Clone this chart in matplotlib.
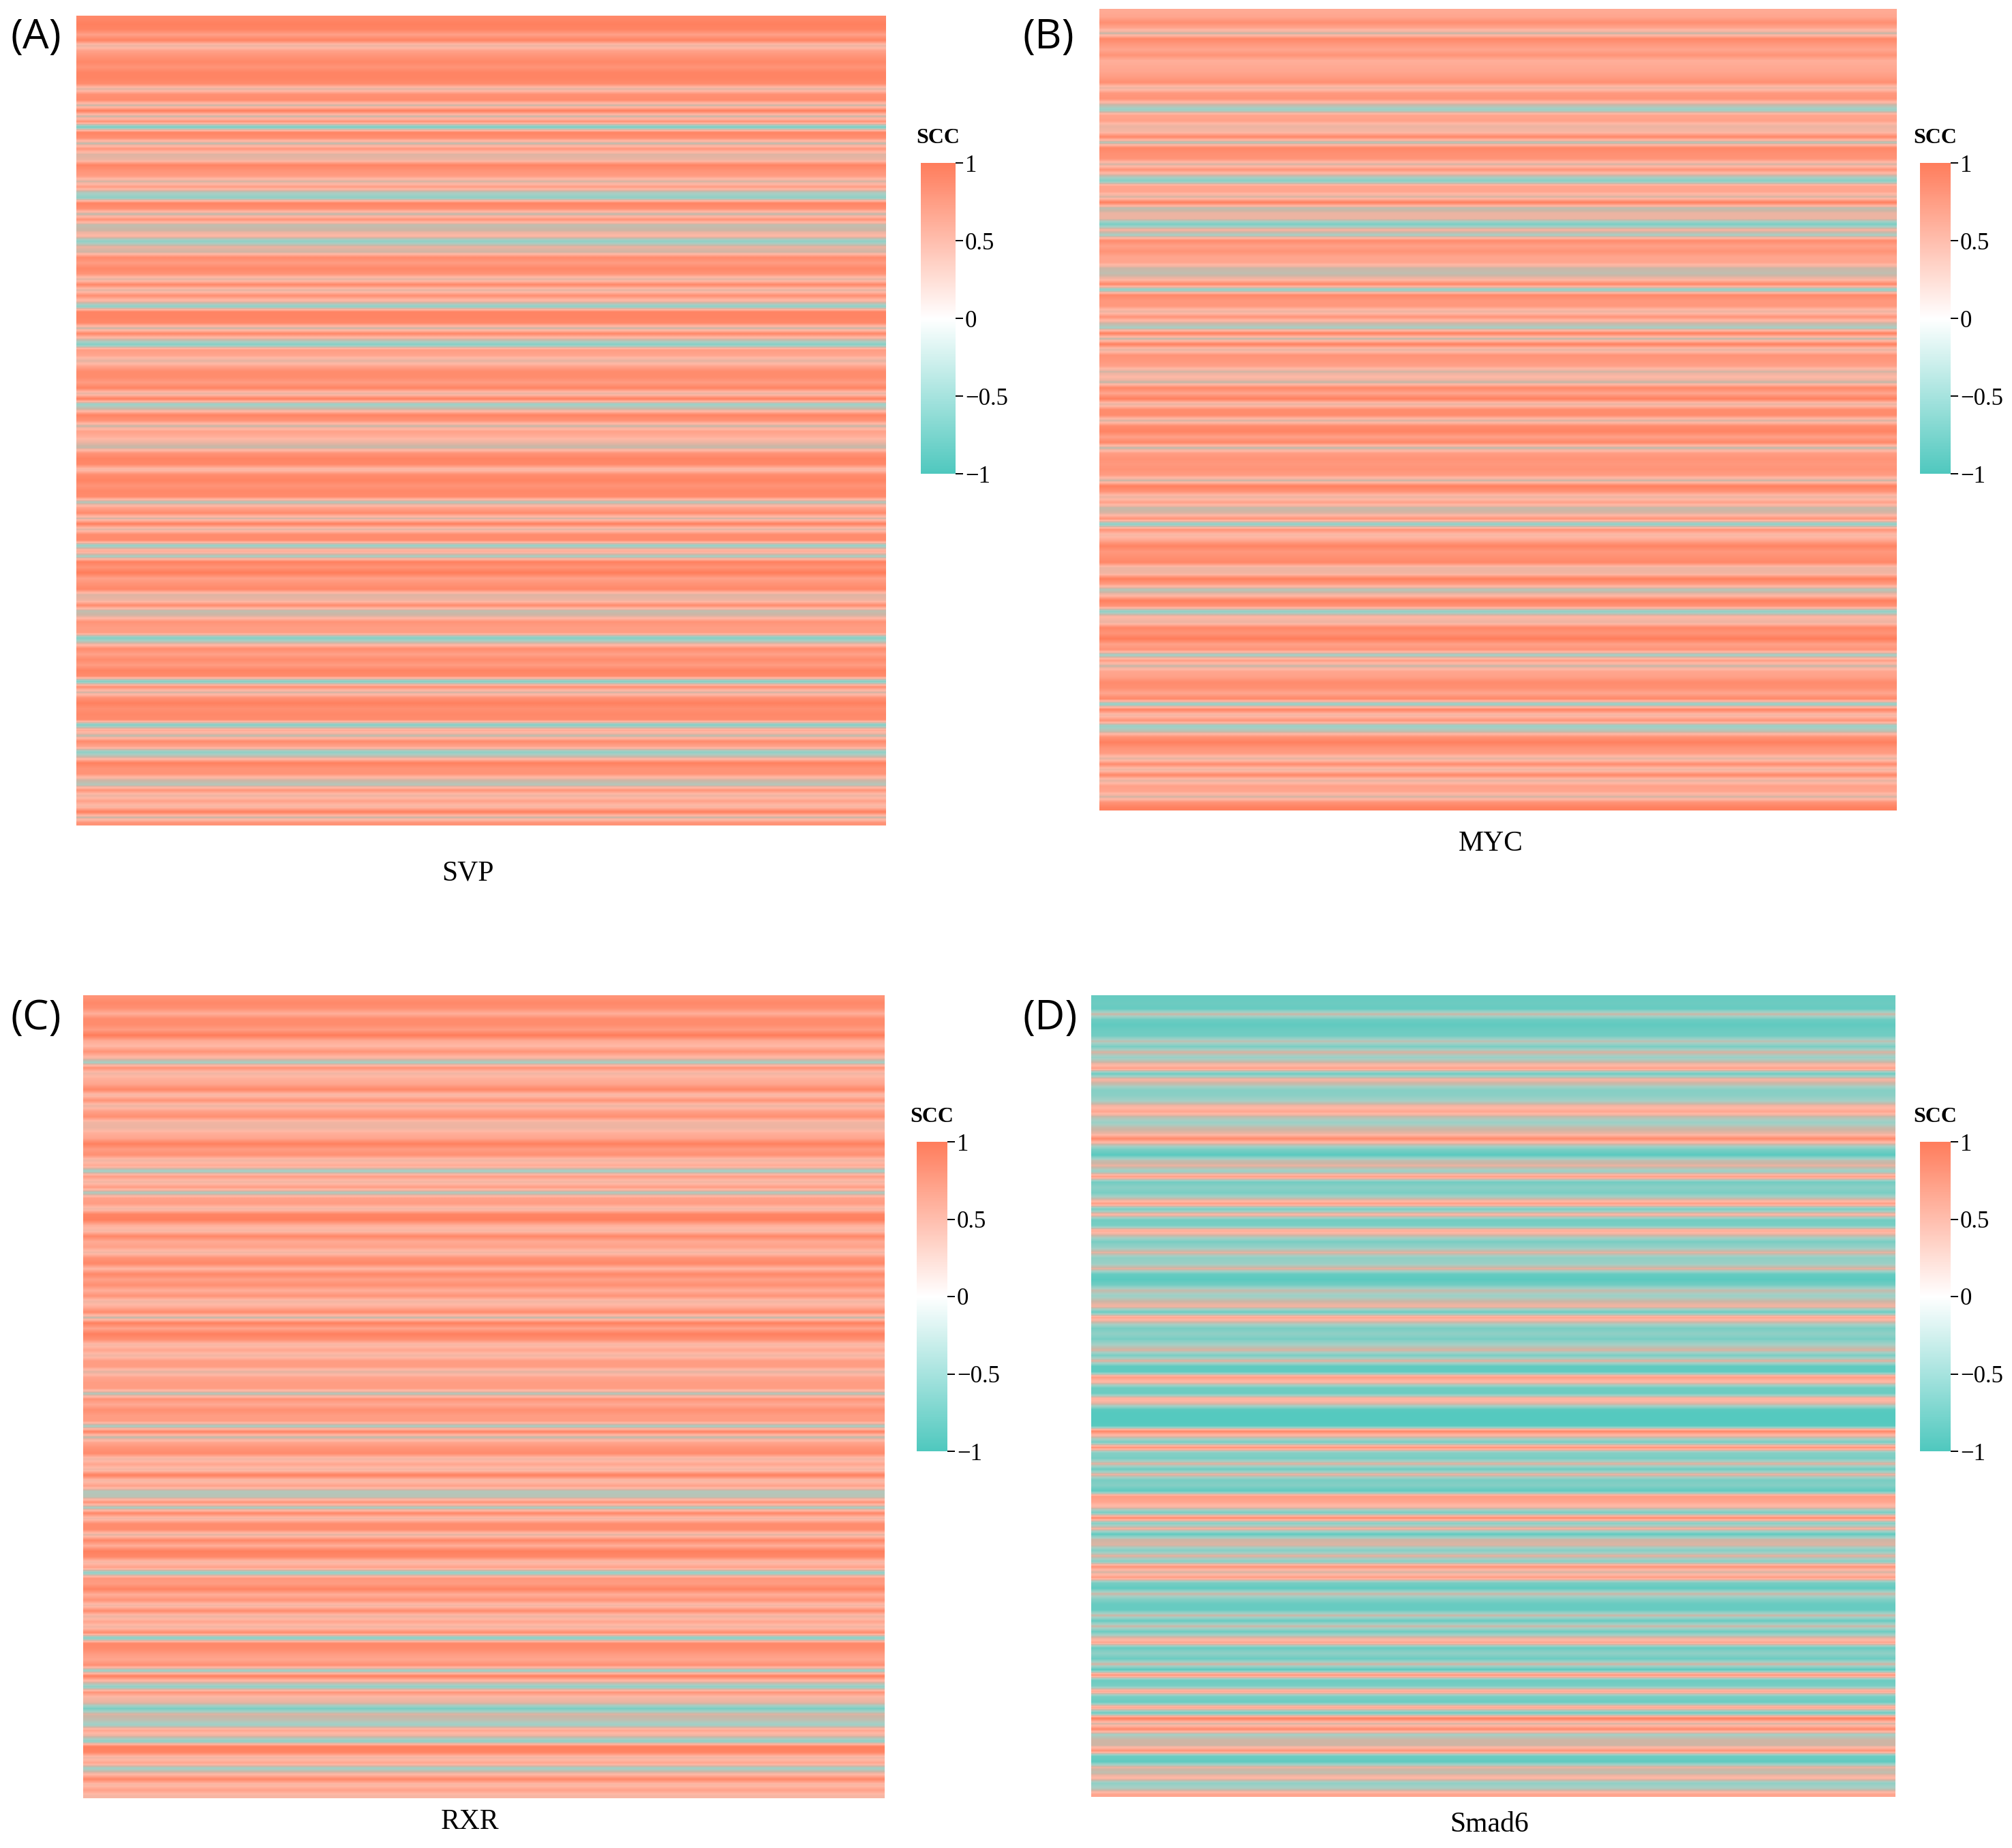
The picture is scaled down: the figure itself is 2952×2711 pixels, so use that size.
import numpy as np
import matplotlib
matplotlib.use("Agg")
import matplotlib.pyplot as plt
from matplotlib.cm import ScalarMappable
from matplotlib.colors import LinearSegmentedColormap, Normalize

# rows read top to bottom, ten per line
svp_values = [
    .85, .95, .9, .55, .9, .1, .55, .7, .85, .7,
    .9, .9, .8, .05, .75, .8, -.05, .95, -.05, .7,
    -.7, .9, .75, -.1, .65, .05, .1, .9, .7, .6,
    0, .6, -.2, -.5, .9, .75, -.1, .7, -.1, 0,
    .3, -.5, .1, 0, .8, .6, .85, .7, .05, .85,
    .05, .75, .2, -.5, .9, .9, .85, -.05, .85, .05,
    -.6, .6, .5, .05, .5, .8, .8, .6, .9, .05,
    .95, -.4, .05, .9, .7, -.05, .55, .4, .1, -.05,
    .7, .9, .85, .2, .8, .9, .7, .85, .8, -.2,
    .5, .8, 0, .95, .05, .8, .8, -.45, .45, -.3,
    .95, .7, 1, .55, .7, .85, .05, .1, .8, -.1,
    .05, .7, .6, .6, -.6, .05, .8, .55, .8, .6,
    .9, .8, -.6, .75, 0, .7, .95, .75, .85, .8,
    -.6, .45, -.1, .8, .5, -.5, .05, .95, .7, .7,
    .05, -.2, .7, .1, .55, .2, .95, -.05, .7,
]
myc_values = [
    .45, .5, .75, .5, -.05, .85, .65, .5, .7, .4,
    .45, .5, .6, .75, .1, .65, .7, 0, -.4, .5,
    .55, .1, .2, .85, -.2, .85, .75, .7, 0, .7,
    0, -.6, .5, .5, 0, .95, -.1, .1, .1, -.7,
    .2, -.3, .8, .55, .7, .5, .5, 0, -.1, .15,
    .85, -.5, .85, .65, .65, .1, .7, .05, -.3, .95,
    -.1, .95, .05, .7, .65, .55, 0, .3, -.05, .85,
    .5, .95, .05, .8, .8, 0, .8, .9, .55, .85,
    -.1, .6, .7, .65, .7, .6, -.05, .95, .7, .1,
    .55, -.05, .05, .7, -.55, .7, .2, .5, .9, .65,
    .75, .85, .1, .15, .95, .6, -.2, .2, .95, .7,
    -.5, .3, .1, .85, .7, 1, .55, .7, -.35, .6,
    -.05, .5, .55, .8, .75, .5, .85, -.5, .9, .15,
    .7, -.4, -.1, .7, .95, .7, .6, .05, .8, .1,
    .85, .05, .55, .5, 0, .7, .95,
]
rxr_values = [
    .7, .85, .75, .4, .8, .8, .6, 1, .45, .3,
    .7, .3, -.3, .7, .15, .4, .5, .85, .2, .7,
    .1, .55, .75, .15, .1, .4, .5, .95, .6, .75,
    .15, .45, -.35, .6, .15, .6, -.25, .55, .6, .15,
    .9, .95, .4, .2, .85, .45, .55, .15, .7, .85,
    .3, .85, .55, .75, .4, .7, .15, .4, .8, -.1,
    .95, .5, .95, .75, .2, .5, .15, .6, .6, .05,
    .5, .6, .6, -.2, .7, .45, .75, .6, .6, -.3,
    .9, -.1, .5, .7, .8, .15, .5, .15, .95, .2,
    .55, -.2, -.15, .7, -.3, .85, .15, .8, .8, .05,
    .85, .4, .95, .85, .2, .55, -.5, .65, .6, .9,
    .4, .7, .15, .8, .1, .5, .15, .8, -.6, .85,
    .8, .6, .5, .75, -.4, .95, .15, -.5, .7, .2,
    .05, -.7, .05, -.1, -.35, .5, .1, -.5, .95, .9,
    .15, .5, -.35, .2, .85, .2, .55, .2,
]
smad6_values = [
    -.85, -.8, -.85, 0, -.8, -.9, -.8, -.75, -.1, -.7,
    .05, -.4, .05, .55, -.8, .2, -.1, -.6, -.55, -.3,
    .2, .5, -.1, -.4, -.05, .1, .8, 0, -.7, -.95,
    -.1, .1, -.4, .6, -.75, -.55, -.7, -.1, .6, -.7,
    .3, -.75, -.7, .45, -.1, -.7, -.45, .1, -.5, -.4,
    .1, -.85, -.95, -.75, -.05, -.4, 0, .15, -.8, .5,
    -.1, -.7, -.5, -.7, -.3, .05, -.7, .1, -.9, -.9,
    .6, .2, -.8, -.8, .4, 0, -.95, -1, -1, -.95,
    .85, .05, -.7, .7, -.6, -.7, .1, -.8, .15, -.7,
    -.6, -.9, .6, .5, .2, -.7, .8, -.6, .2, -.9,
    0, .05, -.6, .1, -.55, .7, 0, .6, -.7, -.9,
    0, -.6, -.85, -.85, 0, -.85, 0, -.8, 0, .5,
    -.8, -.5, -.8, .05, -.95, .7, -.8, -.7, .5, -.7,
    -.8, .5, -.8, .95, 0, .8, -.3, 0, 0, .7,
    -.8, -.9, .1, -.1, .3, -.5, -.2, .5,
]

panel_letters = ["(A)", "(B)", "(C)", "(D)"]
gene_names = ["SVP", "MYC", "RXR", "Smad6"]
panel_values = [svp_values, myc_values, rxr_values, smad6_values]
cbar_ticks = [-1, -0.5, 0, 0.5, 1]
cbar_ticklabels = ["\u22121", "\u22120.5", "0", "0.5", "1"]

W, H = 2952, 2711
# left, right, top, bottom in pixels of the full picture
heat_boxes = [(112, 1300, 23, 1211), (1613, 2783, 13, 1189),
              (122, 1298, 1460, 2638), (1601, 2781, 1460, 2636)]
cbar_boxes = [(1351, 1402, 239, 695), (2817, 2862, 239, 695),
              (1345, 1390, 1675, 2129), (2817, 2862, 1675, 2129)]
letter_pos = [(15, 55), (1500, 55), (15, 1494), (1500, 1494)]
gene_pos = [(686, 1281), (2187, 1238), (690, 2673), (2185, 2677)]

serif = "Liberation Serif"

# blended stripes in the heat maps go through tan, the legend goes through white
heat_cmap = LinearSegmentedColormap.from_list("heat", [
    (0.0, "#55C9BF"), (0.2, "#86CFC5"), (0.35, "#A6D0C6"), (0.5, "#CDB6A6"),
    (0.55, "#EDB4A2"), (0.65, "#FFB9A6"), (0.75, "#FFA68F"), (0.85, "#FF9478"),
    (1.0, "#FF7D5B")])
cbar_cmap = LinearSegmentedColormap.from_list("scc", ["#4FC8BE", "#FFFFFF", "#FF7D5C"])
norm = Normalize(-1, 1)


def px_axes(fig, box):
    left, right, top, bottom = box
    return fig.add_axes([left / W, 1 - bottom / H, (right - left) / W, (bottom - top) / H])


fig = plt.figure(figsize=(W / 100, H / 100), dpi=100)

for i in range(4):
    ax = px_axes(fig, heat_boxes[i])
    rows = np.array(panel_values[i], dtype=float).reshape(-1, 1)
    ax.imshow(np.tile(rows, (1, 2)), cmap=heat_cmap, norm=norm, aspect="auto",
              interpolation="bilinear")
    ax.axis("off")

    cax = px_axes(fig, cbar_boxes[i])
    cb = fig.colorbar(ScalarMappable(norm=norm, cmap=cbar_cmap), cax=cax, ticks=cbar_ticks)
    cb.ax.set_yticklabels(cbar_ticklabels, family=serif, fontsize=25)
    cb.ax.tick_params(length=8, width=1.4, pad=2)
    cb.outline.set_visible(False)
    cax_left, cax_right, cax_top, cax_bottom = cbar_boxes[i]
    fig.text((cax_left + cax_right) / 2 / W, 1 - (cax_top - 36) / H, "SCC", family=serif,
             fontweight="bold", fontsize=23, ha="center", va="center")

    fig.text(letter_pos[i][0] / W, 1 - letter_pos[i][1] / H, panel_letters[i],
             family="Open Sans", fontsize=44, ha="left", va="center")
    fig.text(gene_pos[i][0] / W, 1 - gene_pos[i][1] / H, gene_names[i],
             family=serif, fontsize=30, ha="center", va="center")

fig.savefig("out.png", dpi=100)
